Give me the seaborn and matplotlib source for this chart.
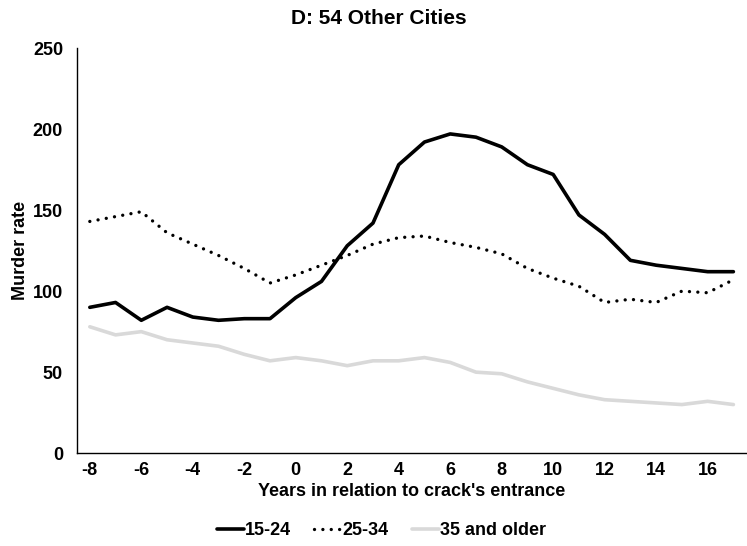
import numpy as np
import pandas as pd
import matplotlib
matplotlib.use("Agg")
import matplotlib.pyplot as plt
import seaborn as sns

# years relative to crack's entrance
years = list(range(-8, 18))

age_15_24 = [90, 93, 82, 90, 84, 82, 83, 83, 96, 106, 128, 142, 178, 192,
             197, 195, 189, 178, 172, 147, 135, 119, 116, 114, 112, 112]
age_25_34 = [143, 146, 149, 136, 129, 122, 114, 105, 110, 116, 122, 129, 133, 134,
             130, 127, 123, 114, 108, 103, 93, 95, 93, 100, 99, 107]
age_35_up = [78, 73, 75, 70, 68, 66, 61, 57, 59, 57, 54, 57, 57, 59,
             56, 50, 49, 44, 40, 36, 33, 32, 31, 30, 32, 30]

series_names = ["15-24", "25-34", "35 and older"]

df = pd.DataFrame({"year": years, "15-24": age_15_24,
                   "25-34": age_25_34, "35 and older": age_35_up})

sns.set_style("white")
plt.rcParams["font.family"] = ["Liberation Sans", "DejaVu Sans"]
plt.rcParams["font.weight"] = "bold"
plt.rcParams["axes.unicode_minus"] = False
plt.rcParams["text.color"] = "black"
plt.rcParams["axes.labelcolor"] = "black"
plt.rcParams["xtick.color"] = "black"
plt.rcParams["ytick.color"] = "black"

fig = plt.figure(figsize=(7.47, 5.46), dpi=100)
ax = fig.add_axes([0.103, 0.170, 0.896, 0.742])

styles = {
    "15-24": dict(color="black", linewidth=2.6, linestyle="-"),
    "25-34": dict(color="black", linewidth=2.4, linestyle=(0, (0.01, 2.5)),
                  dash_capstyle="round"),
    "35 and older": dict(color="#d9d9d9", linewidth=2.6, linestyle="-"),
}

for name in series_names:
    sns.lineplot(data=df, x="year", y=name, ax=ax, label=name, **styles[name])

ax.set_xlim(-8.5, 17.5)
ax.set_ylim(0, 250)
ax.set_xticks(range(-8, 17, 2))
ax.set_yticks(range(0, 251, 50))
ax.tick_params(axis="x", length=0, labelsize=13, pad=6)
ax.tick_params(axis="y", length=0, labelsize=13, pad=10)
for lbl in ax.get_xticklabels() + ax.get_yticklabels():
    lbl.set_fontweight("bold")

sns.despine(ax=ax, top=True, right=True)
ax.spines["left"].set_color("black")
ax.spines["bottom"].set_color("black")
ax.spines["left"].set_linewidth(1.0)
ax.spines["bottom"].set_linewidth(1.0)

ax.set_xlabel("Years in relation to crack's entrance", fontsize=13,
              fontweight="bold", labelpad=3)
ax.set_ylabel("Murder rate", fontsize=13, fontweight="bold", labelpad=3)
fig.suptitle("D: 54 Other Cities", fontsize=15, fontweight="bold",
             x=0.507, y=0.967, va="center")

leg = ax.legend(loc="upper center", bbox_to_anchor=(0.455, -0.13), ncol=3,
                frameon=False, fontsize=13, handlelength=1.5,
                handletextpad=0.05, columnspacing=1.3)
for t in leg.get_texts():
    t.set_fontweight("bold")

fig.savefig("out.png", dpi=100)
